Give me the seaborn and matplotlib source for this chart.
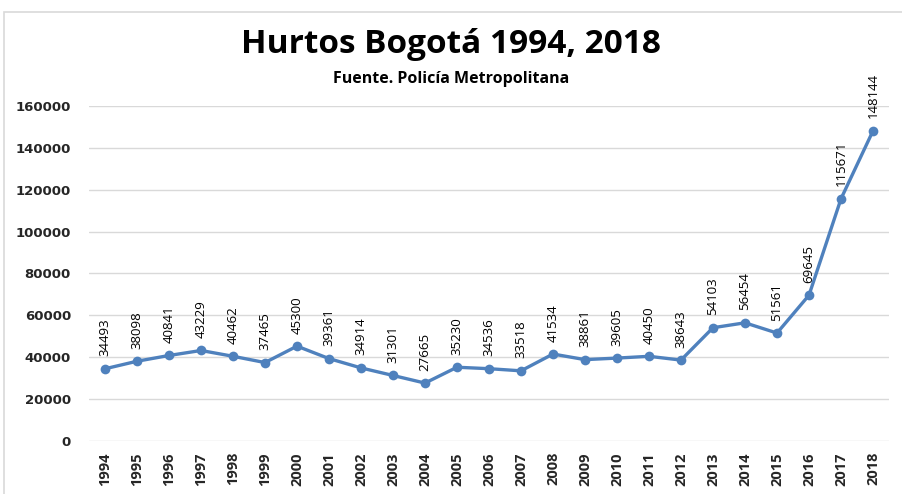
import matplotlib
matplotlib.use("Agg")
import matplotlib.pyplot as plt
import seaborn as sns
import pandas as pd
from matplotlib.patches import Rectangle

years = ["1994", "1995", "1996", "1997", "1998", "1999", "2000", "2001", "2002",
         "2003", "2004", "2005", "2006", "2007", "2008", "2009", "2010", "2011",
         "2012", "2013", "2014", "2015", "2016", "2017", "2018"]
hurtos = [34493, 38098, 40841, 43229, 40462, 37465, 45300, 39361, 34914,
          31301, 27665, 35230, 34536, 33518, 41534, 38861, 39605, 40450,
          38643, 54103, 56454, 51561, 69645, 115671, 148144]
yticks = [0, 20000, 40000, 60000, 80000, 100000, 120000, 140000, 160000]

sns.set_theme(style="white")
plt.rcParams['font.family'] = ['Open Sans', 'DejaVu Sans']

df = pd.DataFrame({"Año": years, "Hurtos": hurtos})

fig = plt.figure(figsize=(9.02, 4.94), dpi=100)
ax = fig.add_axes([89/902, 53/494, 800/902, 335/494])

color = "#4F81BD"
sns.lineplot(data=df, x="Año", y="Hurtos", ax=ax, color=color, linewidth=2.4,
             marker="o", markersize=7, markeredgewidth=0, sort=False)

for i, v in enumerate(hurtos):
    ax.annotate(str(v), (i, v), xytext=(0, 9), textcoords="offset points",
                rotation=90, ha="center", va="bottom", fontsize=9.5,
                color="#000000", annotation_clip=False)

ax.set_xlim(-0.5, len(years) - 0.5)
ax.set_ylim(0, 160000)
ax.set_yticks(yticks)
ax.set_yticklabels([str(t) for t in yticks], fontsize=9.5, fontweight="bold",
                   family=["DejaVu Sans"])
ax.set_xticks(range(len(years)))
ax.set_xticklabels(years, rotation=90, fontsize=10.5, fontweight="bold")
ax.tick_params(axis="y", length=0, pad=13)
ax.tick_params(axis="x", length=0, pad=8)
ax.set_xlabel("")
ax.set_ylabel("")
ax.grid(axis="y", color="#D9D9D9", linewidth=1)
ax.grid(axis="x", visible=False)
for s in ax.spines.values():
    s.set_visible(False)

fig.text(0.5, 1 - 53/494, "Hurtos Bogotá 1994, 2018", ha="center", va="baseline",
         fontsize=24, fontweight="bold", color="#000000")
fig.text(0.5, 1 - 83/494, "Fuente. Policía Metropolitana", ha="center", va="baseline",
         fontsize=11.5, fontweight="bold", color="#000000")

fig.patches.append(Rectangle((4/902, -0.01), 1.2, (494-12)/494 + 0.01,
                             transform=fig.transFigure, fill=False,
                             edgecolor="#D9D9D9", linewidth=1.2))

fig.savefig("out.png", dpi=100)
